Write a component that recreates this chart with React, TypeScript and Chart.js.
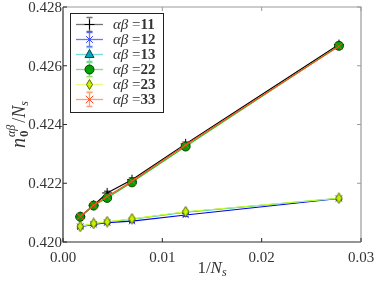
import React, { useEffect, useRef } from "react";
import { Chart, registerables } from "chart.js";

Chart.register(...registerables);

// ---------- data ----------
const xValues = [0.001736, 0.003086, 0.004444, 0.006944, 0.012346, 0.027778];
const seriesCodes = ["11", "12", "13", "22", "23", "33"];
const values11 = [0.42086, 0.42125, 0.42167, 0.42212, 0.42334, 0.42672];
const values12 = [0.42052, 0.4206, 0.42066, 0.42071, 0.42092, 0.42148];
const values13 = [0.42053, 0.42062, 0.42068, 0.42078, 0.42102, 0.42149];
const values22 = [0.42086, 0.42124, 0.4215, 0.42203, 0.42325, 0.42668];
const values23 = [0.42053, 0.42063, 0.42069, 0.42079, 0.42103, 0.42149];
const values33 = [0.42087, 0.42125, 0.42155, 0.42207, 0.4233, 0.42666];
const errors11 = [0.00006, 0.00006, 0.00006, 0.00006, 0.00006, 0.00007];
const errors12 = [0.00005, 0.00005, 0.00005, 0.00005, 0.00005, 0.00006];
const errors13 = [0.00005, 0.00005, 0.00005, 0.00005, 0.00005, 0.00006];
const errors22 = [0.00006, 0.00006, 0.00006, 0.00006, 0.00006, 0.00007];
const errors23 = [0.00005, 0.00005, 0.00005, 0.00005, 0.00005, 0.00006];
const errors33 = [0.00006, 0.00006, 0.00006, 0.00006, 0.00006, 0.00007];
const xTicks = [0, 0.01, 0.02, 0.03];
const xTickLabels = ["0.00", "0.01", "0.02", "0.03"];
const yTicks = [0.42, 0.422, 0.424, 0.426, 0.428];
const yTickLabels = ["0.420", "0.422", "0.424", "0.426", "0.428"];

const FONT = "'Liberation Serif', 'DejaVu Serif', serif";
const TEXT = "#333333";

type Style = {
  line: string;
  fill: string;
  edge: string;
  marker: string;
  radius: number;
  legendRadius: number;
};

const styles: Style[] = [
  { line: "#000000", fill: "#000000", edge: "#000000", marker: "cross", radius: 5, legendRadius: 5 },
  { line: "#0000ee", fill: "#0000ee", edge: "#3344ff", marker: "crossRot", radius: 4.5, legendRadius: 4.5 },
  { line: "#00bfbf", fill: "#00a8b8", edge: "#004455", marker: "triangle", radius: 3.5, legendRadius: 5 },
  { line: "#22c822", fill: "#00a000", edge: "#004400", marker: "circle", radius: 4.5, legendRadius: 4.5 },
  { line: "#d4ff1a", fill: "#ccf000", edge: "#556600", marker: "diamond", radius: 5, legendRadius: 5 },
  { line: "#ff4d1f", fill: "#ff4d1f", edge: "#ff4d1f", marker: "crossRot", radius: 5, legendRadius: 5 },
];

const allValues = [values11, values12, values13, values22, values23, values33];
const allErrors = [errors11, errors12, errors13, errors22, errors23, errors33];

function drawMarker(
  ctx: CanvasRenderingContext2D,
  kind: string,
  x: number,
  y: number,
  r: number,
  fill: string,
  edge: string
) {
  ctx.save();
  ctx.lineWidth = 1;
  ctx.strokeStyle = edge;
  ctx.fillStyle = fill;
  ctx.beginPath();
  if (kind === "cross") {
    ctx.moveTo(x - r, y);
    ctx.lineTo(x + r, y);
    ctx.moveTo(x, y - r);
    ctx.lineTo(x, y + r);
    ctx.stroke();
  } else if (kind === "crossRot") {
    const d = r * 0.75;
    ctx.moveTo(x - d, y - d);
    ctx.lineTo(x + d, y + d);
    ctx.moveTo(x - d, y + d);
    ctx.lineTo(x + d, y - d);
    ctx.stroke();
  } else if (kind === "triangle") {
    ctx.moveTo(x, y - r);
    ctx.lineTo(x + r * 0.9, y + r * 0.6);
    ctx.lineTo(x - r * 0.9, y + r * 0.6);
    ctx.closePath();
    ctx.fill();
    ctx.stroke();
  } else if (kind === "circle") {
    ctx.arc(x, y, r, 0, Math.PI * 2);
    ctx.fill();
    ctx.stroke();
  } else if (kind === "diamond") {
    ctx.moveTo(x, y - r);
    ctx.lineTo(x + r * 0.6, y);
    ctx.lineTo(x, y + r);
    ctx.lineTo(x - r * 0.6, y);
    ctx.closePath();
    ctx.fill();
    ctx.stroke();
  }
  ctx.restore();
}

function makeDiamond(fill: string, edge: string): HTMLCanvasElement {
  const c = document.createElement("canvas");
  c.width = 9;
  c.height = 12;
  const g = c.getContext("2d")!;
  drawMarker(g, "diamond", 4.5, 6, 5.3, fill, edge);
  return c;
}

const errorBarPlugin = {
  id: "errorBars",
  beforeDatasetsDraw(chart: any) {
    const ctx: CanvasRenderingContext2D = chart.ctx;
    const ys = chart.scales.y;
    chart.data.datasets.forEach((ds: any, i: number) => {
      const meta = chart.getDatasetMeta(i);
      const errs = allErrors[i];
      ctx.save();
      ctx.strokeStyle = styles[i].line;
      ctx.lineWidth = 1;
      meta.data.forEach((pt: any, j: number) => {
        const v = ds.data[j].y;
        const top = ys.getPixelForValue(v + errs[j]);
        const bot = ys.getPixelForValue(v - errs[j]);
        ctx.beginPath();
        ctx.moveTo(pt.x, top);
        ctx.lineTo(pt.x, bot);
        ctx.moveTo(pt.x - 3, top);
        ctx.lineTo(pt.x + 3, top);
        ctx.moveTo(pt.x - 3, bot);
        ctx.lineTo(pt.x + 3, bot);
        ctx.stroke();
      });
      ctx.restore();
    });
  },
};

const framePlugin = {
  id: "frame",
  afterDatasetsDraw(chart: any) {
    const ctx: CanvasRenderingContext2D = chart.ctx;
    const a = chart.chartArea;
    const xs = chart.scales.x;
    const ys = chart.scales.y;
    ctx.save();
    ctx.lineWidth = 1.2;
    ctx.strokeStyle = "#9a9a9a";
    ctx.beginPath();
    ctx.moveTo(a.left, a.top);
    ctx.lineTo(a.right, a.top);
    ctx.lineTo(a.right, a.bottom);
    ctx.stroke();
    ctx.strokeStyle = "#2a2a2a";
    ctx.beginPath();
    ctx.moveTo(a.left, a.top);
    ctx.lineTo(a.left, a.bottom);
    ctx.lineTo(a.right, a.bottom);
    ctx.stroke();
    ctx.lineWidth = 1;
    const L = 4;
    xTicks.forEach((t) => {
      const x = xs.getPixelForValue(t);
      ctx.strokeStyle = "#2a2a2a";
      ctx.beginPath();
      ctx.moveTo(x, a.bottom);
      ctx.lineTo(x, a.bottom - L);
      ctx.stroke();
      ctx.strokeStyle = "#9a9a9a";
      ctx.beginPath();
      ctx.moveTo(x, a.top);
      ctx.lineTo(x, a.top + L);
      ctx.stroke();
    });
    yTicks.forEach((t) => {
      const y = ys.getPixelForValue(t);
      ctx.strokeStyle = "#2a2a2a";
      ctx.beginPath();
      ctx.moveTo(a.left, y);
      ctx.lineTo(a.left + L, y);
      ctx.stroke();
      ctx.strokeStyle = "#9a9a9a";
      ctx.beginPath();
      ctx.moveTo(a.right, y);
      ctx.lineTo(a.right - L, y);
      ctx.stroke();
    });
    ctx.fillStyle = TEXT;
    ctx.font = `15px ${FONT}`;
    ctx.textAlign = "right";
    ctx.textBaseline = "middle";
    yTicks.forEach((t, k) => {
      ctx.fillText(yTickLabels[k], a.left - 1, ys.getPixelForValue(t) + 1);
    });
    ctx.textAlign = "center";
    ctx.textBaseline = "alphabetic";
    xTicks.forEach((t, k) => {
      ctx.fillText(xTickLabels[k], xs.getPixelForValue(t), a.bottom + 20);
    });
    ctx.restore();
  },
};

const titlesPlugin = {
  id: "titles",
  afterDraw(chart: any) {
    const ctx: CanvasRenderingContext2D = chart.ctx;
    const a = chart.chartArea;
    ctx.save();
    ctx.fillStyle = TEXT;
    ctx.textBaseline = "alphabetic";
    ctx.textAlign = "left";
    const xr = [
      { t: "1/", f: `17px ${FONT}`, dy: 0 },
      { t: "N", f: `italic 17px ${FONT}`, dy: 0 },
      { t: "s", f: `italic 12px ${FONT}`, dy: 3 },
    ];
    let tw = 0;
    xr.forEach((r) => {
      ctx.font = r.f;
      tw += ctx.measureText(r.t).width;
    });
    let cx = (a.left + a.right) / 2 - tw / 2;
    xr.forEach((r) => {
      ctx.font = r.f;
      ctx.fillText(r.t, cx, 273 + r.dy);
      cx += ctx.measureText(r.t).width;
    });
    ctx.translate(25, (a.top + a.bottom) / 2);
    ctx.rotate(-Math.PI / 2);
    const runs = [
      { t: "n", f: `italic 20px ${FONT}`, dy: 0 },
      { t: "0", f: `bold 13px ${FONT}`, dy: 3 },
      { t: "αβ", f: `italic 12px ${FONT}`, dy: -10 },
      { t: "/", f: `18px ${FONT}`, dy: 0 },
      { t: "N", f: `italic 18px ${FONT}`, dy: 0 },
      { t: "s", f: `italic 12px ${FONT}`, dy: 3 },
    ];
    const widths = runs.map((r) => {
      ctx.font = r.f;
      return ctx.measureText(r.t).width;
    });
    const total = widths[0] + 1 + Math.max(widths[1], widths[2]) + 2 + widths[3] + widths[4] + widths[5];
    let x = -total / 2;
    ctx.font = runs[0].f;
    ctx.fillText(runs[0].t, x, 0);
    x += widths[0] + 1;
    ctx.font = runs[1].f;
    ctx.fillText(runs[1].t, x, runs[1].dy);
    ctx.font = runs[2].f;
    ctx.fillText(runs[2].t, x, runs[2].dy);
    x += Math.max(widths[1], widths[2]) + 2;
    for (let k = 3; k < 6; k++) {
      ctx.font = runs[k].f;
      ctx.fillText(runs[k].t, x, runs[k].dy);
      x += widths[k];
    }
    ctx.restore();
  },
};

const legendPlugin = {
  id: "customLegend",
  afterDraw(chart: any) {
    const ctx: CanvasRenderingContext2D = chart.ctx;
    const bx = 70.5, by = 13.5, bw = 93, bh = 99;
    ctx.save();
    ctx.fillStyle = "#ffffff";
    ctx.fillRect(bx, by, bw, bh);
    ctx.strokeStyle = "#222222";
    ctx.lineWidth = 1;
    ctx.strokeRect(bx, by, bw, bh);
    seriesCodes.forEach((code, i) => {
      const y = 24.5 + i * 15;
      const s = styles[i];
      const mx = 89.5;
      ctx.save();
      ctx.globalAlpha = 0.55;
      ctx.strokeStyle = s.line;
      ctx.lineWidth = 1.3;
      ctx.beginPath();
      ctx.moveTo(76, y);
      ctx.lineTo(103, y);
      ctx.stroke();
      ctx.beginPath();
      ctx.moveTo(mx, y - 7);
      ctx.lineTo(mx, y + 7);
      ctx.moveTo(mx - 3, y - 7);
      ctx.lineTo(mx + 3, y - 7);
      ctx.moveTo(mx - 3, y + 7);
      ctx.lineTo(mx + 3, y + 7);
      ctx.stroke();
      ctx.restore();
      drawMarker(ctx, s.marker, mx, y, s.legendRadius, s.fill, s.edge);
      ctx.fillStyle = TEXT;
      ctx.textBaseline = "middle";
      ctx.textAlign = "left";
      ctx.font = `italic 15px ${FONT}`;
      const ab = "αβ";
      ctx.fillText(ab, 113, y + 1);
      const w = ctx.measureText(ab).width;
      ctx.font = `15px ${FONT}`;
      ctx.fillText(" =", 113 + w, y + 1);
      const w2 = ctx.measureText(" =").width;
      ctx.font = `bold 15px ${FONT}`;
      ctx.fillText(code, 113 + w + w2, y + 1);
    });
    ctx.restore();
  },
};

export default function App() {
  const ref = useRef<HTMLCanvasElement>(null);
  useEffect(() => {
    if (!ref.current) return;
    const datasets = seriesCodes.map((code, i) => {
      const s = styles[i];
      const pointStyle = s.marker === "diamond" ? makeDiamond(s.fill, s.edge) : s.marker;
      return {
        label: "αβ =" + code,
        data: xValues.map((x, j) => ({ x, y: allValues[i][j] })),
        borderColor: s.line,
        backgroundColor: s.fill,
        pointBorderColor: s.edge,
        pointBackgroundColor: s.fill,
        borderWidth: 1.2,
        pointRadius: s.radius,
        pointBorderWidth: 1,
        pointStyle: pointStyle as any,
        tension: 0,
        fill: false,
        order: 5 - i,
      };
    });
    const chart = new Chart(ref.current, {
      type: "line",
      data: { datasets },
      options: {
        animation: false,
        responsive: false,
        devicePixelRatio: 1,
        layout: { padding: { top: 7, right: 13, left: 0, bottom: 0 } },
        plugins: {
          legend: { display: false },
          tooltip: { enabled: false },
        },
        scales: {
          x: {
            type: "linear",
            min: 0,
            max: 0.03,
            grid: { display: false },
            border: { display: false },
            ticks: { display: false },
            afterFit: (s: any) => {
              s.height = 42;
            },
          },
          y: {
            type: "linear",
            min: 0.42,
            max: 0.428,
            grid: { display: false },
            border: { display: false },
            ticks: { display: false },
            afterFit: (s: any) => {
              s.width = 63;
            },
          },
        },
      },
      plugins: [errorBarPlugin, framePlugin, titlesPlugin, legendPlugin],
    });
    return () => chart.destroy();
  }, []);
  return (
    <div style={{ position: "absolute", left: 0, top: 0, width: 374, height: 284, background: "#fff" }}>
      <canvas ref={ref} width={374} height={284} style={{ width: 374, height: 284, display: "block" }} />
    </div>
  );
}
